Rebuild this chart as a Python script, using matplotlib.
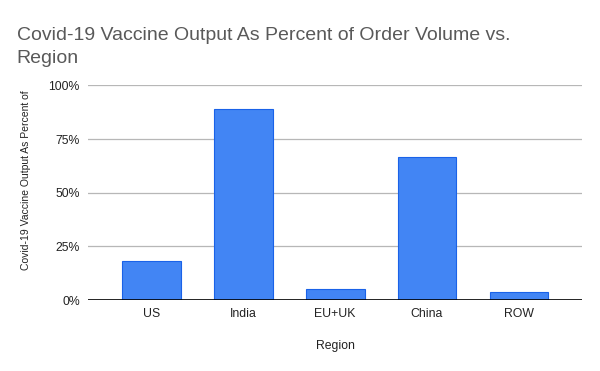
import matplotlib.pyplot as plt
from matplotlib.ticker import PercentFormatter

regions = ['US', 'India', 'EU+UK', 'China', 'ROW']
output_pct = [18.3, 89.1, 5.4, 66.5, 3.6]
yticks = [0, 25, 50, 75, 100]

plt.rcParams['font.family'] = ['Liberation Sans', 'DejaVu Sans']

fig = plt.figure(figsize=(6, 3.71), dpi=100)
ax = fig.add_axes([0.147, 0.191, 0.823, 0.579])

ax.bar(range(len(regions)), output_pct, width=0.64, color='#4285f4',
       edgecolor='#1a62e8', linewidth=0.8, zorder=3)

ax.set_xlim(-0.685, len(regions) - 1 + 0.685)
ax.set_ylim(0, 100)
ax.set_yticks(yticks)
ax.yaxis.set_major_formatter(PercentFormatter(decimals=0))
ax.set_xticks(range(len(regions)))
ax.set_xticklabels(regions)
ax.grid(axis='y', color='#b7b7b7', linewidth=0.9, zorder=0)
ax.axhline(0, color='black', linewidth=1.2, zorder=4)

for s in ax.spines.values():
    s.set_visible(False)
ax.tick_params(length=0, labelsize=8.8, colors='#222222')
ax.tick_params(axis='x', pad=6)
ax.tick_params(axis='y', pad=6)

ax.set_xlabel('Region', fontsize=8.8, color='#222222', labelpad=14)
fig.text(0.043, 0.513, 'Covid-19 Vaccine Output As Percent of', rotation=90,
         fontsize=7.5, color='#222222', ha='center', va='center')

fig.text(0.028, 0.903, 'Covid-19 Vaccine Output As Percent of Order Volume vs.',
         fontsize=14, color='#595959', ha='left', va='center')
fig.text(0.028, 0.842, 'Region', fontsize=14, color='#595959', ha='left', va='center')

fig.savefig('out.png', dpi=100)
